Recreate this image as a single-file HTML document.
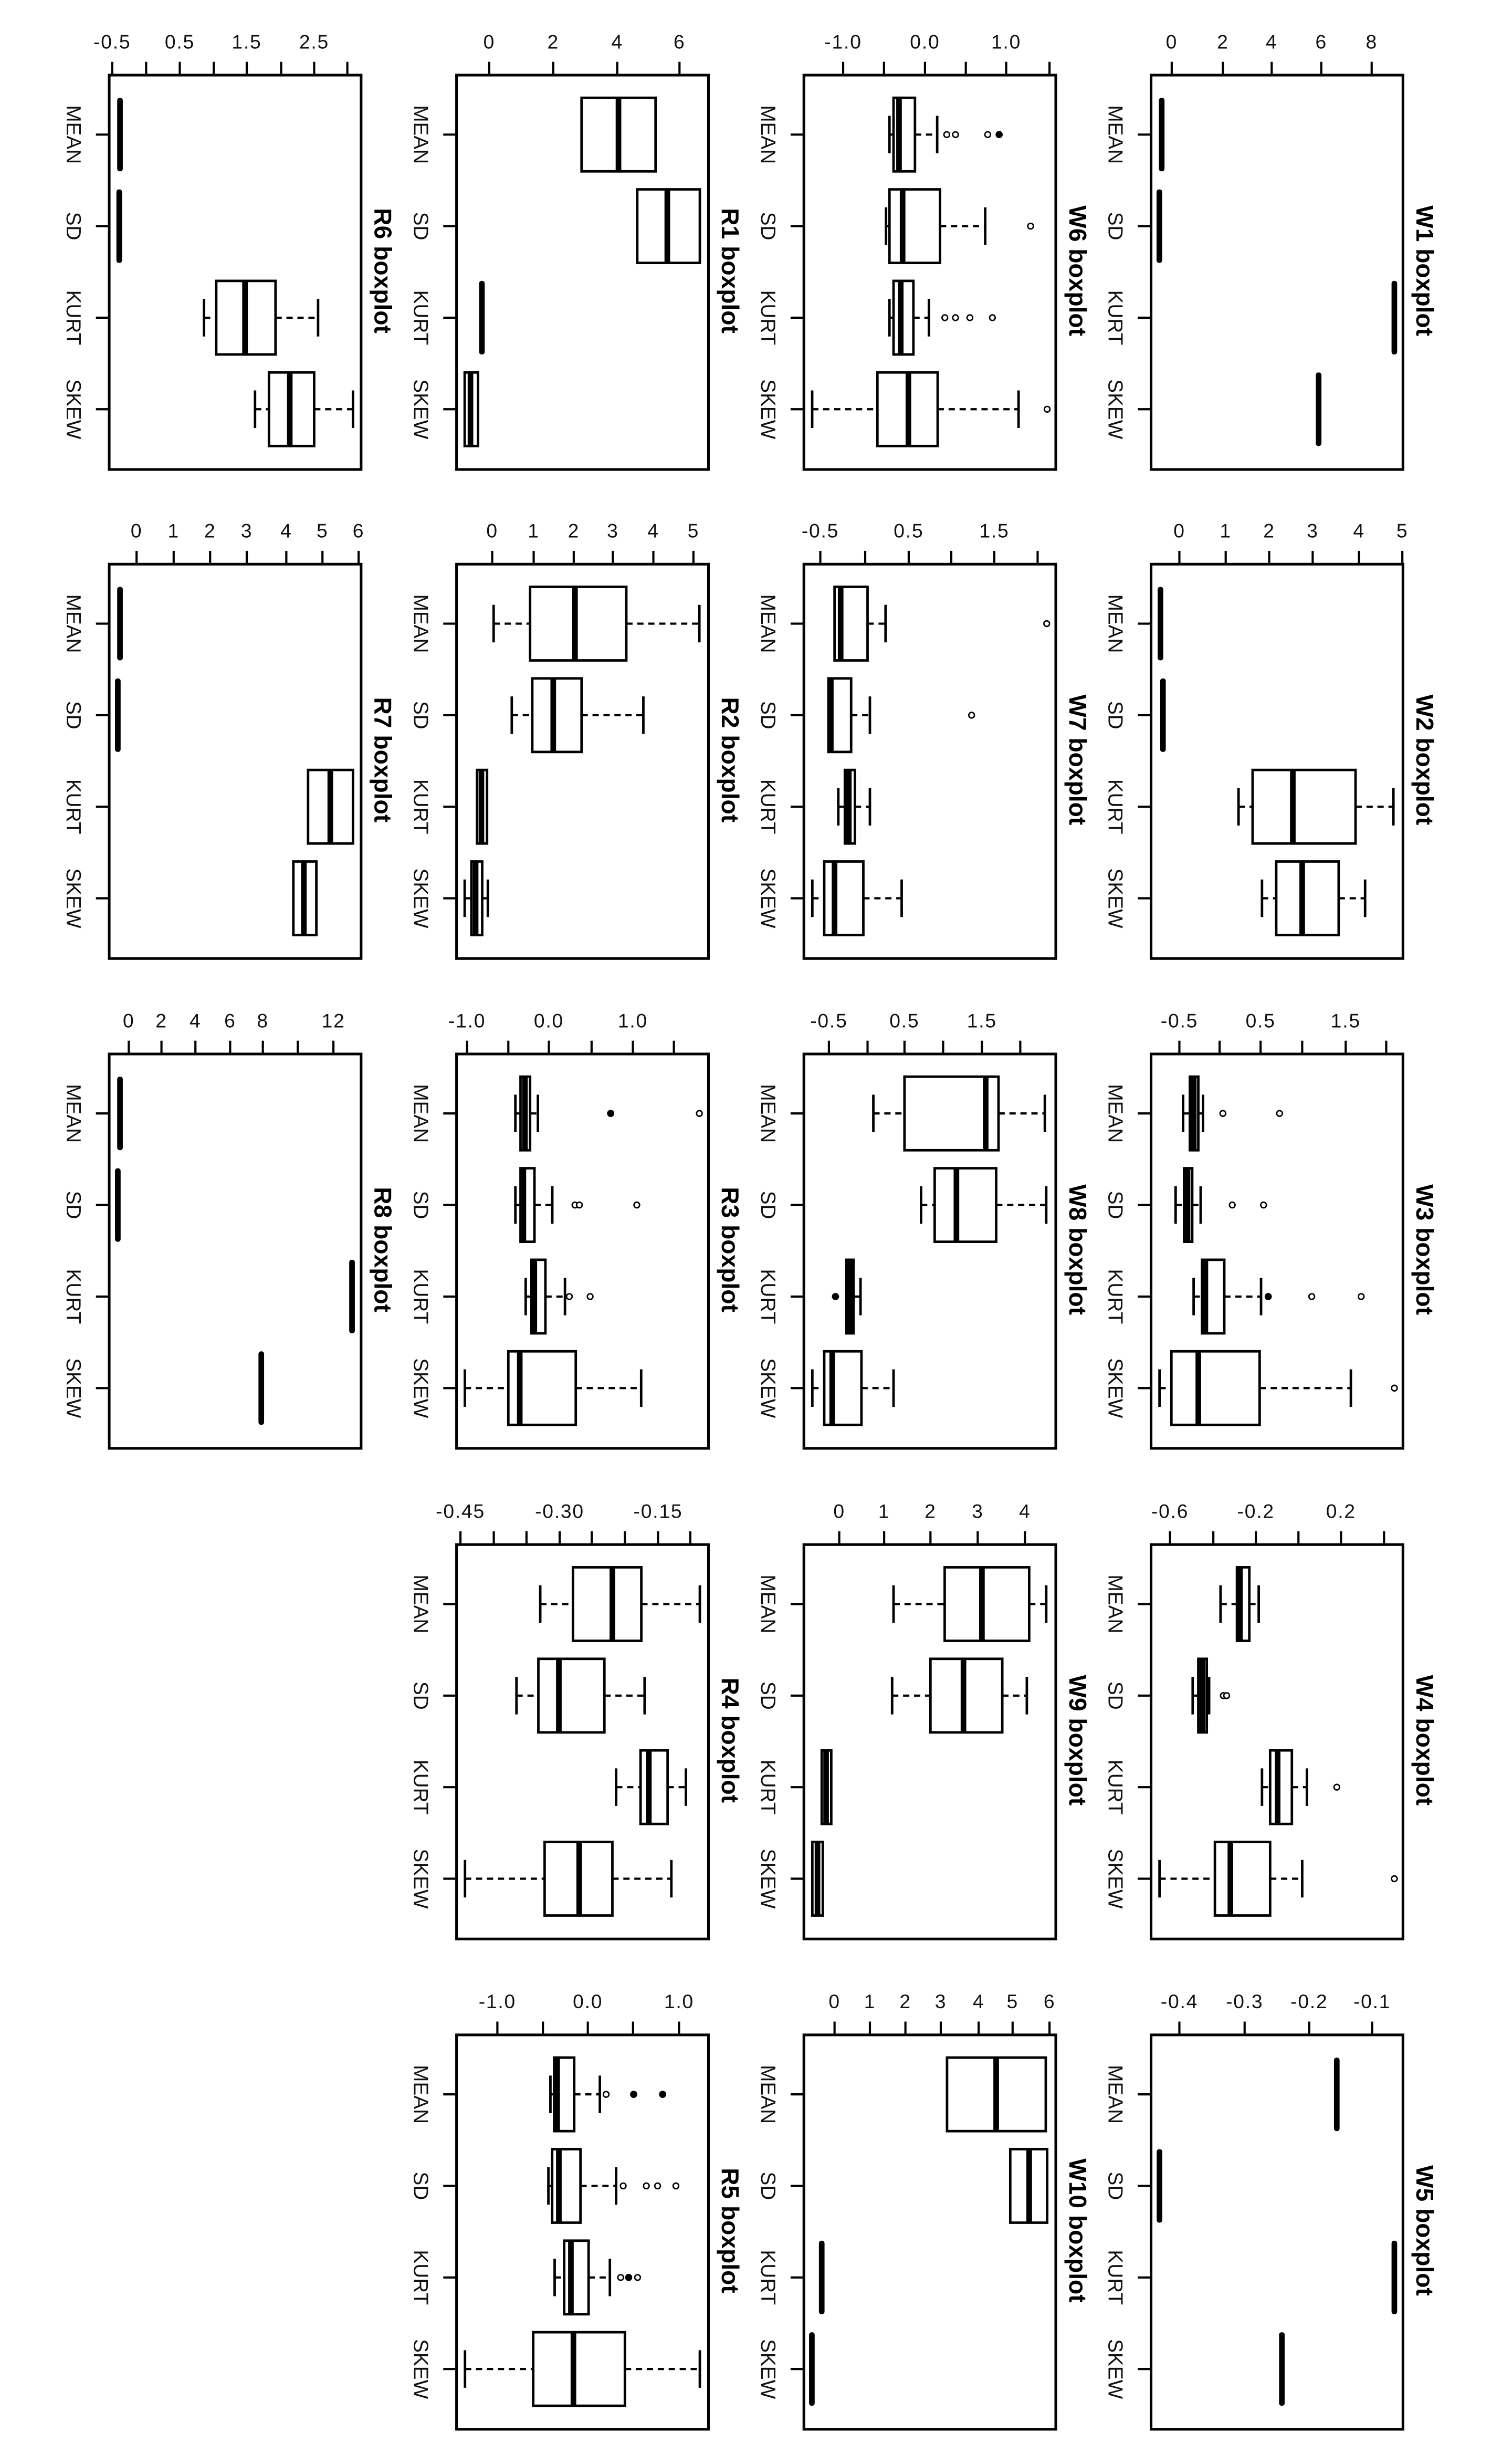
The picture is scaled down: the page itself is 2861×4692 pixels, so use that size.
<!DOCTYPE html>
<html><head><meta charset="utf-8">
<style>
html,body{margin:0;padding:0;background:#fff;}
svg{display:block;}
.n{font-family:"Liberation Sans",sans-serif;font-size:12.5px;fill:#111;text-anchor:middle;letter-spacing:0.6px;}
.c{font-family:"Liberation Sans",sans-serif;font-size:13px;fill:#111;text-anchor:middle;dominant-baseline:central;}
.t{font-family:"Liberation Sans",sans-serif;font-size:15.5px;font-weight:bold;fill:#000;text-anchor:middle;dominant-baseline:central;}
</style></head>
<body>
<svg id="s" width="2861" height="4692" viewBox="0 0 960 1574.5" preserveAspectRatio="none" xmlns="http://www.w3.org/2000/svg">
<rect width="960" height="1574.5" fill="#fff"/>
<g id="shapes"></g>

<text class="n" x="748.9" y="31">0</text><text class="n" x="781.6" y="31">2</text><text class="n" x="812.8" y="31">4</text><text class="n" x="844.5" y="31">6</text><text class="n" x="876.7" y="31">8</text>
<text class="n" x="538.9" y="31">-1.0</text><text class="n" x="591.2" y="31">0.0</text><text class="n" x="643.1" y="31">1.0</text>
<text class="n" x="312.7" y="31">0</text><text class="n" x="353.6" y="31">2</text><text class="n" x="394.5" y="31">4</text><text class="n" x="434.3" y="31">6</text>
<text class="n" x="71.7" y="31">-0.5</text><text class="n" x="114.9" y="31">0.5</text><text class="n" x="157.7" y="31">1.5</text><text class="n" x="200.8" y="31">2.5</text>
<text class="n" x="753.8" y="343.5">0</text><text class="n" x="783.4" y="343.5">1</text><text class="n" x="811.2" y="343.5">2</text><text class="n" x="839" y="343.5">3</text><text class="n" x="868.6" y="343.5">4</text><text class="n" x="896.3" y="343.5">5</text>
<text class="n" x="524.3" y="343.5">-0.5</text><text class="n" x="580.8" y="343.5">0.5</text><text class="n" x="635.5" y="343.5">1.5</text>
<text class="n" x="314.6" y="343.5">0</text><text class="n" x="341.1" y="343.5">1</text><text class="n" x="366.7" y="343.5">2</text><text class="n" x="391.7" y="343.5">3</text><text class="n" x="417.6" y="343.5">4</text><text class="n" x="443.2" y="343.5">5</text>
<text class="n" x="87.3" y="343.5">0</text><text class="n" x="111" y="343.5">1</text><text class="n" x="134.3" y="343.5">2</text><text class="n" x="157.7" y="343.5">3</text><text class="n" x="183" y="343.5">4</text><text class="n" x="206.1" y="343.5">5</text><text class="n" x="229.2" y="343.5">6</text>
<text class="n" x="753.8" y="656.5">-0.5</text><text class="n" x="805.7" y="656.5">0.5</text><text class="n" x="860.1" y="656.5">1.5</text>
<text class="n" x="529.8" y="656.5">-0.5</text><text class="n" x="578.1" y="656.5">0.5</text><text class="n" x="627.6" y="656.5">1.5</text>
<text class="n" x="298.5" y="656.5">-1.0</text><text class="n" x="350.8" y="656.5">0.0</text><text class="n" x="404.5" y="656.5">1.0</text>
<text class="n" x="82.3" y="656.5">0</text><text class="n" x="103.2" y="656.5">2</text><text class="n" x="124.9" y="656.5">4</text><text class="n" x="147.1" y="656.5">6</text><text class="n" x="168" y="656.5">8</text><text class="n" x="213.1" y="656.5">12</text>
<text class="n" x="747.8" y="970">-0.6</text><text class="n" x="802.7" y="970">-0.2</text><text class="n" x="857.1" y="970">0.2</text>
<text class="n" x="536.4" y="970">0</text><text class="n" x="565.1" y="970">1</text><text class="n" x="594.7" y="970">2</text><text class="n" x="624.9" y="970">3</text><text class="n" x="655.1" y="970">4</text>
<text class="n" x="294.3" y="970">-0.45</text><text class="n" x="357.7" y="970">-0.30</text><text class="n" x="420.6" y="970">-0.15</text>
<text class="n" x="753.8" y="1283.3">-0.4</text><text class="n" x="795.5" y="1283.3">-0.3</text><text class="n" x="836.8" y="1283.3">-0.2</text><text class="n" x="877" y="1283.3">-0.1</text>
<text class="n" x="533.4" y="1283.3">0</text><text class="n" x="556" y="1283.3">1</text><text class="n" x="578.7" y="1283.3">2</text><text class="n" x="601.3" y="1283.3">3</text><text class="n" x="625.5" y="1283.3">4</text><text class="n" x="647.2" y="1283.3">5</text><text class="n" x="670.8" y="1283.3">6</text>
<text class="n" x="317.9" y="1283.3">-1.0</text><text class="n" x="375.7" y="1283.3">0.0</text><text class="n" x="434" y="1283.3">1.0</text>

<g transform="translate(735.7,48)"><text class="c" transform="translate(-23,38) rotate(90)">MEAN</text><text class="c" transform="translate(-23,96.5) rotate(90)">SD</text><text class="c" transform="translate(-23,155) rotate(90)">KURT</text><text class="c" transform="translate(-23,213.5) rotate(90)">SKEW</text><text class="t" transform="translate(175,125) rotate(90)">W1 boxplot</text></g>
<g transform="translate(513.8,48)"><text class="c" transform="translate(-23,38) rotate(90)">MEAN</text><text class="c" transform="translate(-23,96.5) rotate(90)">SD</text><text class="c" transform="translate(-23,155) rotate(90)">KURT</text><text class="c" transform="translate(-23,213.5) rotate(90)">SKEW</text><text class="t" transform="translate(175,125) rotate(90)">W6 boxplot</text></g>
<g transform="translate(291.8,48)"><text class="c" transform="translate(-23,38) rotate(90)">MEAN</text><text class="c" transform="translate(-23,96.5) rotate(90)">SD</text><text class="c" transform="translate(-23,155) rotate(90)">KURT</text><text class="c" transform="translate(-23,213.5) rotate(90)">SKEW</text><text class="t" transform="translate(175,125) rotate(90)">R1 boxplot</text></g>
<g transform="translate(69.8,48)"><text class="c" transform="translate(-23,38) rotate(90)">MEAN</text><text class="c" transform="translate(-23,96.5) rotate(90)">SD</text><text class="c" transform="translate(-23,155) rotate(90)">KURT</text><text class="c" transform="translate(-23,213.5) rotate(90)">SKEW</text><text class="t" transform="translate(175,125) rotate(90)">R6 boxplot</text></g>

<g transform="translate(735.7,360.5)"><text class="c" transform="translate(-23,38) rotate(90)">MEAN</text><text class="c" transform="translate(-23,96.5) rotate(90)">SD</text><text class="c" transform="translate(-23,155) rotate(90)">KURT</text><text class="c" transform="translate(-23,213.5) rotate(90)">SKEW</text><text class="t" transform="translate(175,125) rotate(90)">W2 boxplot</text></g>
<g transform="translate(513.8,360.5)"><text class="c" transform="translate(-23,38) rotate(90)">MEAN</text><text class="c" transform="translate(-23,96.5) rotate(90)">SD</text><text class="c" transform="translate(-23,155) rotate(90)">KURT</text><text class="c" transform="translate(-23,213.5) rotate(90)">SKEW</text><text class="t" transform="translate(175,125) rotate(90)">W7 boxplot</text></g>
<g transform="translate(291.8,360.5)"><text class="c" transform="translate(-23,38) rotate(90)">MEAN</text><text class="c" transform="translate(-23,96.5) rotate(90)">SD</text><text class="c" transform="translate(-23,155) rotate(90)">KURT</text><text class="c" transform="translate(-23,213.5) rotate(90)">SKEW</text><text class="t" transform="translate(175,125) rotate(90)">R2 boxplot</text></g>
<g transform="translate(69.8,360.5)"><text class="c" transform="translate(-23,38) rotate(90)">MEAN</text><text class="c" transform="translate(-23,96.5) rotate(90)">SD</text><text class="c" transform="translate(-23,155) rotate(90)">KURT</text><text class="c" transform="translate(-23,213.5) rotate(90)">SKEW</text><text class="t" transform="translate(175,125) rotate(90)">R7 boxplot</text></g>

<g transform="translate(735.7,673.5)"><text class="c" transform="translate(-23,38) rotate(90)">MEAN</text><text class="c" transform="translate(-23,96.5) rotate(90)">SD</text><text class="c" transform="translate(-23,155) rotate(90)">KURT</text><text class="c" transform="translate(-23,213.5) rotate(90)">SKEW</text><text class="t" transform="translate(175,125) rotate(90)">W3 boxplot</text></g>
<g transform="translate(513.8,673.5)"><text class="c" transform="translate(-23,38) rotate(90)">MEAN</text><text class="c" transform="translate(-23,96.5) rotate(90)">SD</text><text class="c" transform="translate(-23,155) rotate(90)">KURT</text><text class="c" transform="translate(-23,213.5) rotate(90)">SKEW</text><text class="t" transform="translate(175,125) rotate(90)">W8 boxplot</text></g>
<g transform="translate(291.8,673.5)"><text class="c" transform="translate(-23,38) rotate(90)">MEAN</text><text class="c" transform="translate(-23,96.5) rotate(90)">SD</text><text class="c" transform="translate(-23,155) rotate(90)">KURT</text><text class="c" transform="translate(-23,213.5) rotate(90)">SKEW</text><text class="t" transform="translate(175,125) rotate(90)">R3 boxplot</text></g>
<g transform="translate(69.8,673.5)"><text class="c" transform="translate(-23,38) rotate(90)">MEAN</text><text class="c" transform="translate(-23,96.5) rotate(90)">SD</text><text class="c" transform="translate(-23,155) rotate(90)">KURT</text><text class="c" transform="translate(-23,213.5) rotate(90)">SKEW</text><text class="t" transform="translate(175,125) rotate(90)">R8 boxplot</text></g>

<g transform="translate(735.7,987)"><text class="c" transform="translate(-23,38) rotate(90)">MEAN</text><text class="c" transform="translate(-23,96.5) rotate(90)">SD</text><text class="c" transform="translate(-23,155) rotate(90)">KURT</text><text class="c" transform="translate(-23,213.5) rotate(90)">SKEW</text><text class="t" transform="translate(175,125) rotate(90)">W4 boxplot</text></g>
<g transform="translate(513.8,987)"><text class="c" transform="translate(-23,38) rotate(90)">MEAN</text><text class="c" transform="translate(-23,96.5) rotate(90)">SD</text><text class="c" transform="translate(-23,155) rotate(90)">KURT</text><text class="c" transform="translate(-23,213.5) rotate(90)">SKEW</text><text class="t" transform="translate(175,125) rotate(90)">W9 boxplot</text></g>
<g transform="translate(291.8,987)"><text class="c" transform="translate(-23,38) rotate(90)">MEAN</text><text class="c" transform="translate(-23,96.5) rotate(90)">SD</text><text class="c" transform="translate(-23,155) rotate(90)">KURT</text><text class="c" transform="translate(-23,213.5) rotate(90)">SKEW</text><text class="t" transform="translate(175,125) rotate(90)">R4 boxplot</text></g>

<g transform="translate(735.7,1300.3)"><text class="c" transform="translate(-23,38) rotate(90)">MEAN</text><text class="c" transform="translate(-23,96.5) rotate(90)">SD</text><text class="c" transform="translate(-23,155) rotate(90)">KURT</text><text class="c" transform="translate(-23,213.5) rotate(90)">SKEW</text><text class="t" transform="translate(175,125) rotate(90)">W5 boxplot</text></g>
<g transform="translate(513.8,1300.3)"><text class="c" transform="translate(-23,38) rotate(90)">MEAN</text><text class="c" transform="translate(-23,96.5) rotate(90)">SD</text><text class="c" transform="translate(-23,155) rotate(90)">KURT</text><text class="c" transform="translate(-23,213.5) rotate(90)">SKEW</text><text class="t" transform="translate(175,125) rotate(90)">W10 boxplot</text></g>
<g transform="translate(291.8,1300.3)"><text class="c" transform="translate(-23,38) rotate(90)">MEAN</text><text class="c" transform="translate(-23,96.5) rotate(90)">SD</text><text class="c" transform="translate(-23,155) rotate(90)">KURT</text><text class="c" transform="translate(-23,213.5) rotate(90)">SKEW</text><text class="t" transform="translate(175,125) rotate(90)">R5 boxplot</text></g>
</svg>
<script>
(function(){
var CX={W:735.7,V:513.8,R:291.8,S:69.8};
var RY=[48,360.5,673.5,987,1300.3];
var CY=[38,96.5,155,213.5];
var PW=161,PH=252,BH=23.5,CAP=12;
var P=[
['W',0,[748.9,781.6,812.8,844.5,876.7],[742.5,741,891.2,842.8]],
['V',0,[538.9,565,591.2,617.3,643.1,670.8],[[568.5,571.1,574.6,584.8,599,[605.1,610.7,631.3],[638.6]],[566.3,568.5,576.9,600.8,629.7,[658.7]],[568.5,571.1,575.7,583.8,593.7,[603.9,610.7,619.9,634.3]],[519.1,560.8,580.6,599.3,651,[669.3]]]],
['R',0,[312.7,353.6,394.5,434.3],[[0,371.7,395.3,419,0],[0,407.3,426.5,447.3,0],308,[0,297,300.7,305.5,0]]],
['S',0,[71.7,93.4,114.9,136.6,157.7,179.7,200.8,222],[76.7,76.2,[130.4,138.2,156.6,176.1,203.3],[163,171.9,185.2,200.8,225.6]]],
['W',1,[753.8,783.4,811.2,839,868.6,896.3],[741.7,743.3,[791.6,800.6,826.3,866.4,890.6],[806.6,815.7,832.3,855.6,872.5]]],
['V',1,[524.3,553,580.8,608,635.5,663.2],[[0,533.4,537.3,554.5,566,[669]],[0,529.5,531,544,556,[621]],[535.8,540,542.5,546.4,556],[519.2,526.8,533.4,551.8,576.3]]],
['R',1,[314.6,341.1,366.7,391.7,417.6,443.2],[[315.5,338.8,367.5,400.3,447],[327.1,340.2,353.6,371.7,411.2],[0,304.9,307.7,311.3,0],[297,301.3,304,308.2,311.8]]],
['S',1,[87.3,111,134.3,157.7,183,206.1,229.2],[76.7,75.3,[0,196.9,211.1,225.6,0],[0,187.5,194.2,202.2,0]]],
['W',2,[753.8,779.5,805.7,832.3,860.1,886],[[756.2,760.5,763,765.9,768.9,[781.6,817.8]],[751.4,756.8,759,762,767.4,[787.6,807.6]],[762.9,768.3,770.4,782.5,806,[838.4,870],[810.6]],[741.1,748.7,765.9,805.1,863.4,[891.2]]]],
['V',2,[529.8,554.5,578.1,602.8,627.6,652.1],[[558.2,578.1,630,638.2,667.8],[588.7,597.4,611.3,636.7,668.7],[0,541,543,545.5,550,[],[534]],[519.2,526.8,531.9,550.6,571.1]]],
['R',2,[298.5,324.9,350.8,378.1,404.5,430.7],[[329.4,332.7,335.5,338.8,343.8,[447],[390.3]],[329.4,332.7,334.5,341.6,353,[367.5,370.3,407]],[336,339.7,341.5,348.6,361.1,[363.9,377.2]],[297.1,324.9,332.2,368,409.8]]],
['S',2,[82.3,103.2,124.9,147.1,168,190.3,213.1],[76.7,75.3,225,167]],
['W',3,[747.8,775.5,802.7,829.9,857.1,884.6],[[780.1,790.6,792.5,798.5,804.5],[762.3,765.9,768.5,771.3,772.8,[781.9,784]],[806.6,811.8,816.6,825.7,835.3,[854.4]],[741.1,776.5,786.4,811.8,832.3,[891.2]]]],
['V',3,[536.4,565.1,594.7,624.9,655.1],[[571.1,603.8,627.6,657.8,668.7],[570.2,594.7,615.8,640.6,656.3],[0,525.2,528,531.3,0],[0,519.2,522.5,525.9,0]]],
['R',3,[294.3,315.6,336.5,357.7,378.2,399.4,420.6,441.2],[[345.3,366.2,391.4,409.9,447.3],[330.1,344.1,357.2,386.3,412],[393.8,409.4,414.7,426.7,438.4],[297.2,348.1,370.2,391.4,429.1]]],
['W',4,[753.8,795.5,836.8,877],[854.4,741.1,891.2,819.3]],
['V',4,[533.4,556,578.7,601.3,625.5,647.2,670.8],[[0,605.3,636.7,668.4,0],[0,645.7,657.8,669.3,0],525.2,518.9]],
['R',4,[317.9,347,375.7,404.6,434],[[351.8,354.2,356.1,367,383.4,[387.4],[405,423.5]],[350.5,352.9,357.2,371,393.8,[398.3,413.1,420.3,432]],[354.5,360.6,364.9,376.2,389.8,[396.7,407.5],[401.8]],[297.2,340.8,366.5,399.4,447.3]]]
];
var h=[];
function L(x1,y1,x2,y2,w,d){h.push('<line x1="'+x1+'" y1="'+y1+'" x2="'+x2+'" y2="'+y2+'" stroke="#000" stroke-width="'+w+'"'+(d?' stroke-dasharray="'+d+'"':'')+'/>');}
P.forEach(function(p){
 var x0=CX[p[0]],y0=RY[p[1]];
 h.push('<rect x="'+x0+'" y="'+y0+'" width="'+PW+'" height="'+PH+'" fill="none" stroke="#000" stroke-width="1.7"/>');
 p[2].forEach(function(t){L(t,y0-8.5,t,y0,1.4);});
 CY.forEach(function(c){L(x0-8.5,y0+c,x0,y0+c,1.4);});
 p[3].forEach(function(it,i){
  var cy=y0+CY[i];
  if(typeof it==='number'){
   h.push('<rect x="'+(it-1.8)+'" y="'+(cy-BH)+'" width="3.6" height="'+(2*BH)+'" rx="1.6" fill="#000"/>');
   return;
  }
  var wl=it[0],q1=it[1],md=it[2],q3=it[3],wh=it[4];
  if(wl&&wl<q1-0.5){L(wl,cy,q1,cy,1.4,'4,3');L(wl,cy-CAP,wl,cy+CAP,1.6);}
  if(wh&&wh>q3+0.5){L(q3,cy,wh,cy,1.4,'4,3');L(wh,cy-CAP,wh,cy+CAP,1.6);}
  var bw=Math.max(q3-q1,1.5);
  h.push('<rect x="'+q1+'" y="'+(cy-BH)+'" width="'+bw+'" height="'+(2*BH)+'" fill="#fff" stroke="#000" stroke-width="1.6"/>');
  h.push('<rect x="'+(md-1.8)+'" y="'+(cy-BH)+'" width="3.6" height="'+(2*BH)+'" fill="#000"/>');
  (it[5]||[]).forEach(function(o){h.push('<circle cx="'+o+'" cy="'+cy+'" r="1.8" fill="#fff" stroke="#000" stroke-width="0.9"/>');});
  (it[6]||[]).forEach(function(o){h.push('<circle cx="'+o+'" cy="'+cy+'" r="2.3" fill="#000"/>');});
 });
});
document.getElementById('shapes').innerHTML=h.join('');
})();
</script>
</body></html>
